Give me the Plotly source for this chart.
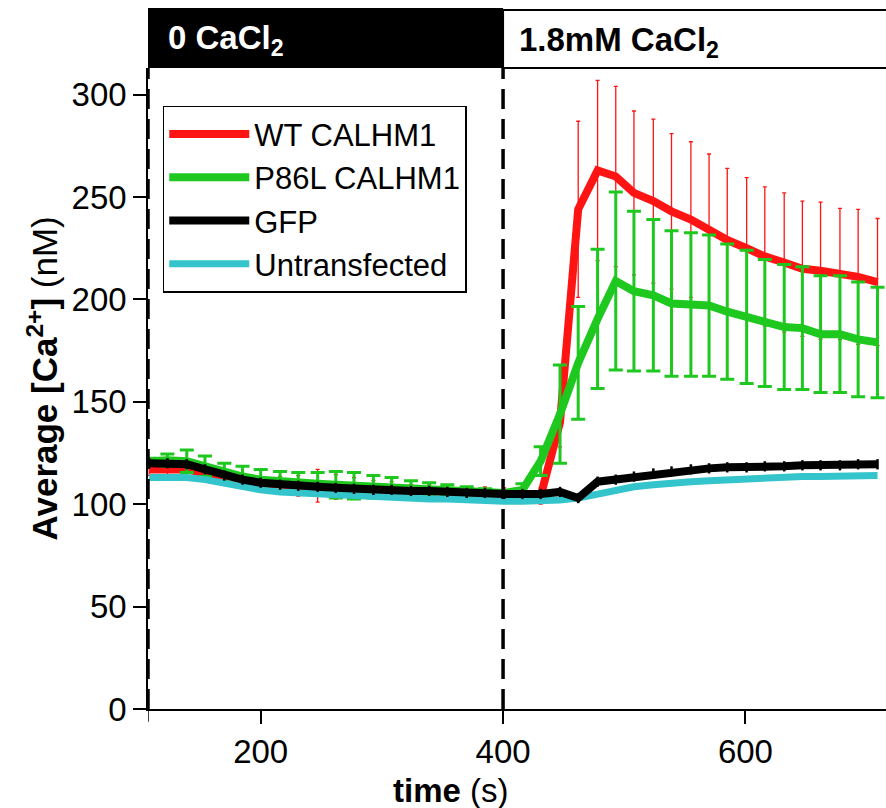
import plotly.graph_objects as go

# time points (s)
times = [108, 123, 139, 154, 170, 185, 200, 216, 231, 247,
         262, 277, 293, 308, 324, 339, 354, 370, 385, 401,
         416, 431, 447, 462, 478, 493, 508, 524, 539, 555,
         570, 585, 601, 616, 632, 647, 662, 678, 693, 709]

# average [Ca2+] (nM)
wt_calhm1 = [117, 117, 117, 115, 113, 111, 110, 109.5, 109, 109,
             108.5, 108, 107.5, 107, 106.5, 106.5, 106, 105.5, 105.5, 105,
             104.5, 104, 140, 244, 263, 260, 252, 248, 243, 239,
             234, 229, 225, 221, 218, 215, 214, 212.5, 211, 208.5]
wt_err = [3, 3, 3, 3, 3, 3, 3, 4, 5, 8,
          6, 5, 4, 4, 3, 3, 3, 3, 3, 3,
          3, 4, 12, 43, 44, 44, 40, 40, 38, 38,
          37, 35, 34.5, 34, 34, 33, 33.5, 32, 33, 31]

p86l_calhm1 = [121, 121.5, 121, 118.5, 115.5, 113.5, 112, 111, 110.5, 110,
               109.5, 109, 108.5, 108.5, 108, 107.5, 107, 106.5, 106, 105.5,
               107, 121, 144, 169, 190.5, 209, 204, 202, 198, 197.5,
               197, 194, 191.5, 188.5, 186.5, 186, 183, 183, 180.5, 179]
p86l_err = [1.5, 3, 5.5, 5, 4.5, 5, 5, 5, 5, 5.5,
            6.5, 6.5, 5.5, 4.5, 3.5, 3, 2.5, 2, 1.5, 1,
            3, 7, 24, 27.5, 34, 43.5, 39, 37, 35.5, 35,
            34.5, 33, 32.5, 31, 30.5, 30, 28.5, 28.5, 28, 27]

gfp = [120, 120, 119.5, 117, 114, 112, 110.5, 109.5, 109, 108.5,
       108, 107.5, 107, 107, 106.5, 106.5, 106, 105.5, 105.5, 105,
       105, 105, 106, 103, 111, 112, 113.5, 115, 116, 117,
       117.5, 118, 118, 118.5, 118.5, 119, 119, 119, 119.5, 119.5]
gfp_err = [2.5] * len(times)

untransfected = [113, 113, 113, 112, 110, 108.5, 107, 106, 105.5, 105,
                 104.5, 104, 103.5, 103, 103, 102.5, 102.5, 102, 102, 101.5,
                 101.5, 101.5, 102, 103, 105, 107, 108.5, 109.5, 110.5, 111,
                 111.5, 112, 112.5, 113, 113, 113.5, 113.5, 113.5, 114, 114]

x_start, x_end = 107, 716
switch_time = 400
y_ticks = [0, 50, 100, 150, 200, 250, 300]
x_ticks = [200, 400, 600]

FONT = "Liberation Sans, Arial, sans-serif"

fig = go.Figure()

fig.add_trace(go.Scatter(
    x=times, y=wt_calhm1, name="WT CALHM1", mode="lines", legendrank=1,
    line=dict(color="#ff1414", width=8),
    error_y=dict(type="data", array=wt_err, color="#ff1414", thickness=1.3, width=2)))
fig.add_trace(go.Scatter(
    x=times, y=p86l_calhm1, name="P86L CALHM1", mode="lines", legendrank=2,
    line=dict(color="#1ec81e", width=8),
    error_y=dict(type="data", array=p86l_err, color="#1ec81e", thickness=3, width=7)))
fig.add_trace(go.Scatter(
    x=times, y=untransfected, name="Untransfected", mode="lines", legendrank=4,
    line=dict(color="#33c4cc", width=7)))
fig.add_trace(go.Scatter(
    x=times, y=gfp, name="GFP", mode="lines", legendrank=3,
    line=dict(color="black", width=8),
    error_y=dict(type="data", array=gfp_err, color="black", thickness=2.5, width=0)))

# dashed lines at solution changes
for xv in [x_start, switch_time]:
    fig.add_shape(type="line", xref="x", yref="paper", x0=xv, x1=xv, y0=0, y1=1,
                  line=dict(color="black", width=3.5, dash="20px,10px"))

# y axis stub below the x axis
fig.add_shape(type="line", xref="x", yref="paper", x0=x_start, x1=x_start,
              y0=-0.02, y1=0, line=dict(color="black", width=1.5))

# solution bar on top
fig.add_shape(type="rect", xref="x", yref="paper", x0=x_start, x1=switch_time,
              y0=1.0, y1=1.0936, fillcolor="black", line=dict(width=0))
fig.add_shape(type="rect", xref="x", yref="paper", x0=switch_time, x1=x_end + 10,
              y0=1.0, y1=1.0904, fillcolor="white", line=dict(color="black", width=2))
fig.add_annotation(x=x_start, y=1.043, xref="x", yref="paper", xanchor="left",
                   yanchor="middle", xshift=18, showarrow=False,
                   text="<b>0 CaCl<sub>2</sub></b>",
                   font=dict(family=FONT, size=33, color="white"))
fig.add_annotation(x=switch_time, y=1.041, xref="x", yref="paper", xanchor="left",
                   yanchor="middle", xshift=14, showarrow=False,
                   text="<b>1.8mM CaCl<sub>2</sub></b>",
                   font=dict(family=FONT, size=33, color="black"))

# axis titles
fig.add_annotation(x=0, y=0.5, xref="paper", yref="paper", xanchor="center",
                   yanchor="middle", xshift=-106, yshift=10,
                   textangle=-90, showarrow=False,
                   text="<b>Average [Ca<sup>2+</sup>]</b> (nM)",
                   font=dict(family=FONT, size=35, color="black"))
fig.add_annotation(x=0.41, y=0, xref="paper", yref="paper", xanchor="center",
                   yanchor="middle", yshift=-81,
                   showarrow=False, text="<b>time</b> (s)",
                   font=dict(family=FONT, size=33, color="black"))

fig.update_xaxes(range=[x_start, x_end], tickvals=x_ticks, showgrid=False,
                 zeroline=False, showline=True, linecolor="black", linewidth=1.5,
                 ticks="outside", ticklen=13, tickwidth=1.5, tickcolor="black",
                 tickfont=dict(family=FONT, size=33, color="black"))
fig.update_yaxes(range=[0, 313], tickvals=y_ticks, showgrid=False,
                 zeroline=False, showline=True, linecolor="black", linewidth=1.5,
                 ticks="outside", ticklen=13, tickwidth=1.5, tickcolor="black",
                 tickfont=dict(family=FONT, size=33, color="black"))

fig.update_layout(
    width=886, height=808,
    margin=dict(l=148, r=0, t=68, b=99),
    plot_bgcolor="white", paper_bgcolor="white",
    showlegend=True,
    legend=dict(x=0.02, y=0.941, xanchor="left", yanchor="top",
                bgcolor="white", bordercolor="black", borderwidth=1.5,
                itemwidth=80,
                font=dict(family=FONT, size=31, color="black")),
)

# page body has a default 8px margin; drop it so the figure sits at the corner
fig.write_html("out.html", config={"displayModeBar": False},
               post_script="document.body.style.margin = '0';")
